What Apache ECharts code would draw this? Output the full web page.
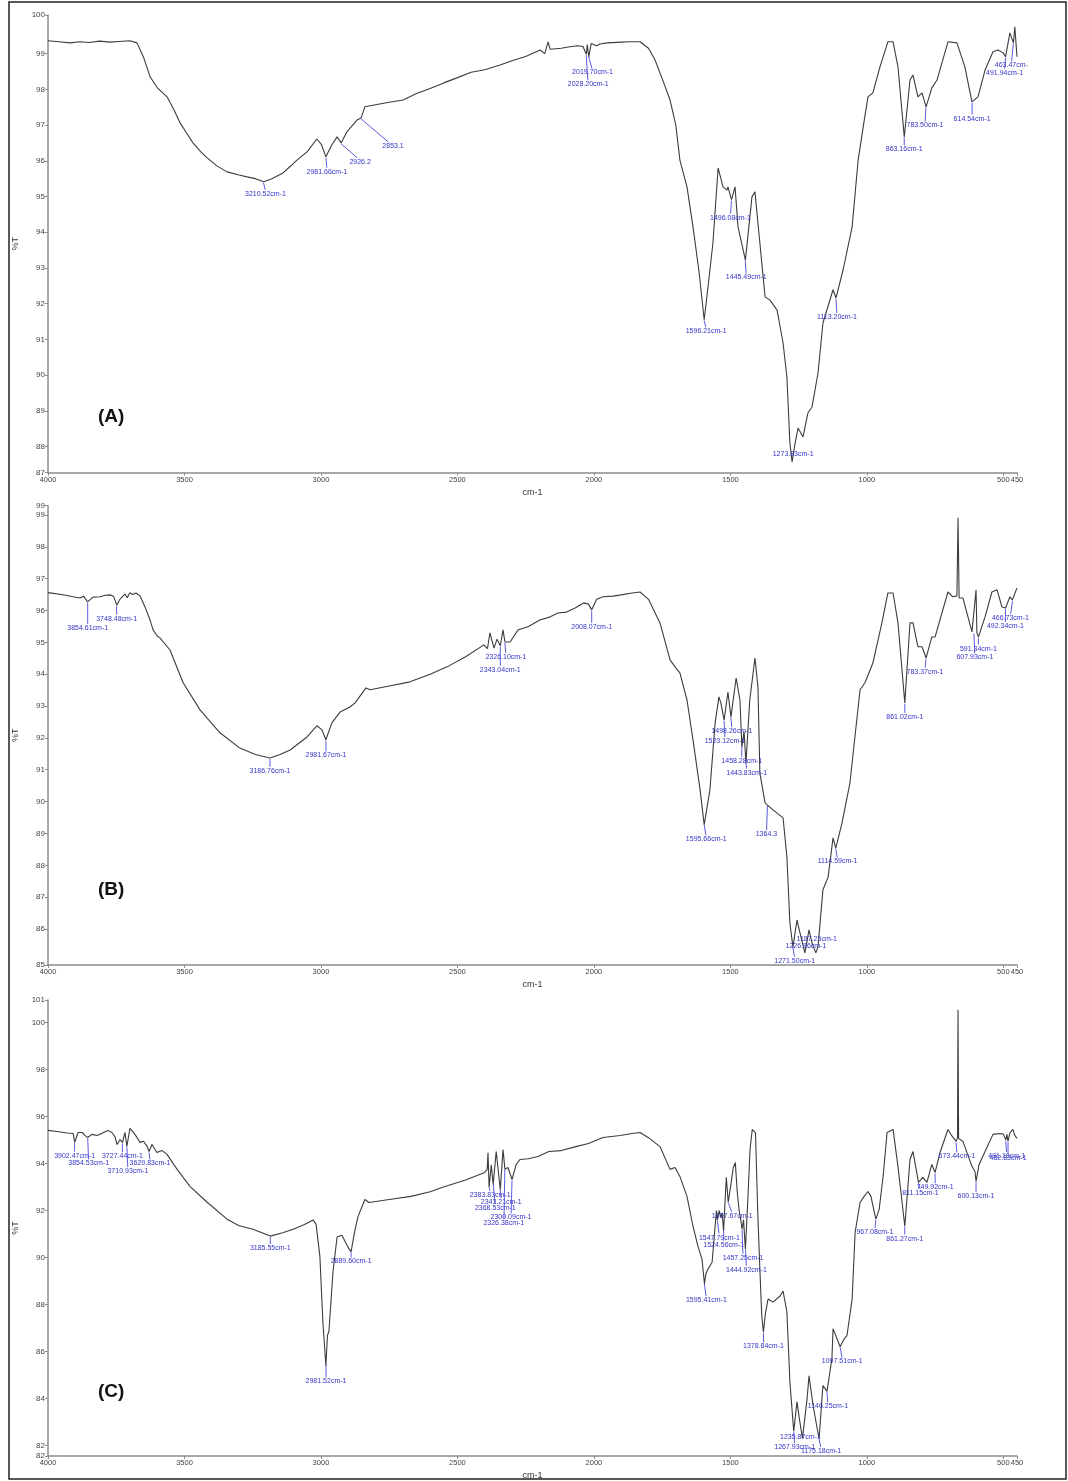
<!DOCTYPE html>
<html><head><meta charset="utf-8">
<script src="https://cdn.jsdelivr.net/npm/echarts@6/dist/echarts.min.js"></script>
<style>html,body{margin:0;padding:0;background:#fff}#c{width:1068px;height:1481px}</style>
</head><body><div id="c"></div>
<script>
// ---------- tick labels ----------
const xTicks = [4000,3500,3000,2500,2000,1500,1000,500,450];
const yTicksA = [87.27,88,89,90,91,92,93,94,95,96,97,98,99,100,100.08];
const yTicksB = [84.87,85,86,87,88,89,90,91,92,93,94,95,96,97,98,99,99.29];
const yTicksC = [81.55,82,84,86,88,90,92,94,96,98,100,100.96];
const panelNames = ['(A)','(B)','(C)'];

// ---------- spectrum A ----------
const wnA = [4000,3960,3920,3883,3850,3810,3773,3740,3700,3674,3650,3626,3600,3564,3540,3516,3490,3469,3440,3417,3380,3344,3300,3271,3240,3210,3180,3139,3110,3088,3051,3015,2998,2982,2960,2941,2926,2905,2868,2853,2839,2800,2750,2699,2650,2600,2550,2502,2450,2400,2344,2300,2250,2197,2180,2168,2160,2154,2120,2088,2060,2040,2028,2024,2019,2010,1990,1978,1950,1900,1870,1831,1800,1776,1750,1721,1700,1685,1659,1637,1615,1596,1580,1564,1545,1527,1512,1509,1496,1483,1472,1445,1421,1410,1392,1373,1355,1329,1307,1293,1282,1274,1263,1252,1234,1216,1201,1179,1161,1124,1113,1087,1054,1032,1014,996,978,952,923,904,886,863,842,831,813,798,783,762,743,703,670,641,615,593,567,538,520,501,492,476,463,458,450];
const tA = [99.36,99.33,99.30,99.33,99.31,99.35,99.32,99.34,99.36,99.30,98.90,98.35,98.05,97.79,97.45,97.06,96.75,96.50,96.25,96.08,95.85,95.69,95.60,95.55,95.50,95.41,95.50,95.66,95.86,96.02,96.25,96.61,96.45,96.11,96.45,96.67,96.50,96.81,97.14,97.20,97.51,97.57,97.64,97.70,97.88,98.02,98.18,98.32,98.48,98.55,98.68,98.80,98.92,99.10,99.00,99.33,99.12,99.10,99.15,99.19,99.22,99.20,98.98,99.25,98.90,99.28,99.22,99.27,99.30,99.32,99.33,99.33,99.15,98.82,98.30,97.70,97.00,96.02,95.27,94.15,92.90,91.55,92.60,93.70,95.80,95.27,95.18,95.27,94.91,95.27,94.15,93.22,94.99,95.13,93.70,92.19,92.10,91.82,90.90,89.95,88.10,87.57,88.10,88.52,88.27,88.94,89.11,90.06,91.46,92.39,92.16,92.95,94.15,96.02,96.92,97.79,97.90,98.63,99.33,99.33,98.63,96.67,98.26,98.40,97.79,97.90,97.51,98.04,98.26,99.33,99.30,98.63,97.65,97.79,98.54,99.05,99.10,99.02,98.91,99.58,99.30,99.75,98.91];

// ---------- spectrum B ----------
const wnB = [4000,3950,3908,3883,3870,3855,3835,3809,3790,3773,3760,3748,3736,3718,3710,3700,3690,3678,3663,3645,3626,3615,3600,3590,3553,3505,3443,3370,3297,3240,3187,3150,3113,3051,3015,2996,2982,2960,2930,2894,2875,2835,2820,2750,2674,2600,2538,2470,2403,2390,2381,2366,2355,2348,2343,2333,2326,2307,2278,2240,2198,2160,2132,2100,2069,2036,2020,2008,1990,1967,1930,1901,1860,1831,1800,1758,1721,1700,1685,1659,1637,1611,1596,1575,1556,1542,1535,1523,1509,1498,1479,1465,1458,1450,1443,1429,1410,1399,1392,1373,1364,1344,1307,1293,1282,1271,1256,1245,1227,1212,1201,1187,1179,1161,1142,1124,1114,1091,1062,1025,1007,978,945,923,904,886,861,842,831,813,798,783,762,750,703,685,670,666,662,648,615,608,600,597,591,567,542,523,505,492,476,467,450];
const tB = [96.56,96.50,96.43,96.39,96.45,96.27,96.42,96.43,96.48,96.49,96.45,96.17,96.36,96.52,96.40,96.56,96.50,96.55,96.46,96.12,95.70,95.39,95.20,95.14,94.76,93.73,92.88,92.16,91.68,91.48,91.37,91.48,91.62,92.03,92.38,92.25,91.94,92.47,92.81,92.97,93.10,93.57,93.51,93.63,93.76,94.00,94.23,94.55,94.92,94.80,95.30,94.82,95.10,95.08,94.89,95.39,95.01,95.01,95.39,95.50,95.70,95.80,95.92,95.95,96.08,96.24,96.20,96.02,96.35,96.43,96.45,96.49,96.55,96.58,96.35,95.61,94.45,94.20,94.04,93.19,91.94,90.37,89.27,90.37,92.47,93.29,93.10,92.56,93.44,92.66,93.88,93.19,91.72,92.20,91.20,93.19,94.51,93.60,90.90,89.96,89.89,89.74,89.49,88.26,86.19,85.44,86.28,85.88,85.25,85.97,85.56,85.25,85.44,87.23,87.63,88.86,88.54,89.33,90.59,93.51,93.73,94.35,95.61,96.55,96.55,95.61,93.10,95.61,95.61,94.86,94.86,94.51,95.17,95.17,96.58,96.43,96.46,98.91,96.39,96.39,95.33,95.30,96.65,95.30,95.17,95.80,96.58,96.65,96.11,96.08,96.43,96.33,96.71];

// ---------- spectrum C ----------
const wnC = [4000,3960,3930,3908,3902,3890,3875,3865,3855,3839,3820,3800,3780,3766,3755,3747,3736,3727,3718,3711,3700,3689,3674,3663,3650,3637,3630,3619,3601,3582,3564,3527,3480,3417,3344,3300,3249,3186,3140,3102,3060,3029,3018,3004,2993,2982,2976,2971,2956,2941,2923,2901,2890,2875,2864,2839,2824,2750,2670,2600,2557,2470,2400,2391,2388,2384,2376,2369,2358,2343,2333,2326,2315,2300,2285,2271,2240,2205,2165,2120,2066,2020,1967,1904,1860,1831,1800,1758,1721,1703,1685,1659,1637,1619,1604,1595,1590,1582,1567,1556,1551,1548,1541,1535,1530,1525,1515,1508,1497,1490,1482,1475,1468,1462,1457,1452,1445,1436,1428,1420,1414,1408,1400,1392,1385,1379,1372,1362,1344,1318,1307,1293,1282,1268,1256,1249,1236,1219,1212,1197,1182,1175,1161,1146,1128,1124,1098,1085,1073,1054,1043,1025,1010,996,985,975,967,955,940,926,904,886,861,842,831,811,795,780,762,750,732,703,690,673,668,666,664,648,615,604,600,589,567,538,512,500,491,487,483,476,465,458,450];
const tC = [95.41,95.35,95.30,95.28,94.90,95.32,95.32,95.20,95.11,95.24,95.19,95.30,95.41,95.32,95.15,94.81,95.02,94.90,95.32,94.73,95.49,95.36,95.11,94.90,94.95,94.73,94.51,94.81,94.47,94.55,94.39,93.75,93.03,92.35,91.63,91.35,91.20,90.91,91.05,91.20,91.40,91.60,91.42,90.06,87.26,85.39,86.70,86.83,89.38,90.87,90.95,90.44,90.23,91.20,91.75,92.47,92.34,92.47,92.60,92.80,92.98,93.30,93.62,93.75,94.46,92.98,93.95,93.11,94.51,92.89,94.59,93.75,93.83,93.32,93.95,94.17,94.20,94.30,94.51,94.55,94.72,94.85,95.11,95.19,95.28,95.32,95.10,94.72,93.75,93.83,93.45,92.60,91.33,90.48,89.93,88.87,89.30,89.51,89.80,91.33,92.00,91.60,92.00,91.70,91.90,91.12,93.41,92.35,93.20,93.80,94.04,92.80,92.00,91.60,91.20,91.60,90.35,92.50,94.60,95.45,95.53,95.30,92.00,89.50,87.50,86.83,87.60,88.23,88.10,88.36,88.57,87.68,84.70,82.60,83.86,83.27,82.30,83.99,84.96,83.69,82.72,82.30,84.55,84.30,85.70,86.97,86.20,86.50,86.67,88.23,91.07,92.34,92.60,92.81,92.60,92.05,91.63,92.05,93.50,95.32,95.45,93.87,91.33,94.17,94.51,93.20,93.41,93.20,93.96,93.62,94.47,95.45,95.20,94.94,95.10,100.54,95.07,94.94,93.88,93.66,93.24,93.96,94.51,95.24,95.28,95.25,95.00,95.24,94.94,95.30,95.45,95.20,95.07];

// ---------- peak annotations ----------
const peaksA = [3210.52,2981.66,2926.2,2853.1,2019.70,2028.20,1596.21,1496.08,1445.49,1273.83,1113.20,863.16,783.50,614.54,491.94,463.47];
const peakTextA = ['3210.52cm-1','2981.66cm-1','2926.2','2853.1','2019.70cm-1','2028.20cm-1','1596.21cm-1','1496.08cm-1','1445.49cm-1','1273.83cm-1','1113.20cm-1','863.16cm-1','783.50cm-1','614.54cm-1','491.94cm-1','463.47cm-'];
const peaksB = [3854.61,3748.48,3186.76,2981.67,2326.10,2343.04,2008.07,1595.66,1498.26,1523.12,1458.28,1443.83,1364.3,1271.50,1226.86,1187.25,1114.59,861.02,783.37,607.93,591.34,492.34,466.73];
const peakTextB = ['3854.61cm-1','3748.48cm-1','3186.76cm-1','2981.67cm-1','2326.10cm-1','2343.04cm-1','2008.07cm-1','1595.66cm-1','1498.26cm-1','1523.12cm-1','1458.28cm-1','1443.83cm-1','1364.3','1271.50cm-1','1226.86cm-1','1187.25cm-1','1114.59cm-1','861.02cm-1','783.37cm-1','607.93cm-1','591.34cm-1','492.34cm-1','466.73cm-1'];
const peaksC = [3902.47,3854.53,3727.44,3710.93,3629.83,3185.55,2981.52,2889.60,2383.83,2343.21,2368.53,2300.09,2326.38,1595.41,1547.79,1524.56,1507.67,1457.25,1444.92,1378.84,1267.93,1235.87,1175.18,1146.25,1097.51,967.08,861.27,811.15,749.92,673.44,600.13,491.19,482.83];
const peakTextC = ['3902.47cm-1','3854.53cm-1','3727.44cm-1','3710.93cm-1','3629.83cm-1','3185.55cm-1','2981.52cm-1','2889.60cm-1','2383.83cm-1','2343.21cm-1','2368.53cm-1','2300.09cm-1','2326.38cm-1','1595.41cm-1','1547.79cm-1','1524.56cm-1','1507.67cm-1','1457.25cm-1','1444.92cm-1','1378.84cm-1','1267.93cm-1','1235.87cm-1','1175.18cm-1','1146.25cm-1','1097.51cm-1','967.08cm-1','861.27cm-1','811.15cm-1','749.92cm-1','673.44cm-1','600.13cm-1','491.19cm-1','482.83cm-1'];

// label placement (pixel offsets from the peak point) - layout only
const offA = [[2,12],[1,15],[19,19],[32,28],[4,17],[2,30],[2,12],[-1,18],[1,18],[1,-8],[1,19],[0,13],[-1,19],[0,17],[-1,16],[-2,23]];
const offB = [[0,26],[0,14],[0,13],[0,16],[1,15],[0,24],[0,17],[2,15],[1,15],[1,21],[0,16],[1,13],[-1,29],[2,15],[1,-7],[1,-14],[2,14],[0,14],[-1,14],[1,25],[0,12],[0,18],[-2,18]];
const offC = [[0,14],[1,26],[0,14],[1,25],[1,12],[0,12],[0,18],[0,10],[1,8],[1,13],[2,25],[-1,38],[-1,55],[2,17],[2,18],[0,16],[4,14],[1,29],[1,21],[0,15],[1,16],[-2,-1],[2,13],[1,15],[2,15],[-1,13],[0,13],[2,11],[0,15],[1,15],[0,15],[1,16],[0,17]];

function interp(ws, vs, w) {
  for (let i = 0; i < ws.length - 1; i++) {
    const a = ws[i], b = ws[i + 1];
    if (w <= a && w >= b) { const t = (a - w) / (a - b); return vs[i] + t * (vs[i + 1] - vs[i]); }
  }
  return vs[vs.length - 1];
}

const panels = [
  {wn: wnA, t: tA, min: 87.27, max: 100.08, ticks: yTicksA, top: 15, height: 457.7, peaks: peaksA, texts: peakTextA, off: offA, letterY: 418},
  {wn: wnB, t: tB, min: 84.87, max: 99.29, ticks: yTicksB, top: 505.7, height: 459.3, peaks: peaksB, texts: peakTextB, off: offB, letterY: 891},
  {wn: wnC, t: tC, min: 81.55, max: 100.96, ticks: yTicksC, top: 1000, height: 457.7, peaks: peaksC, texts: peakTextC, off: offC, letterY: 1393}
];

const FONT = '"Liberation Sans", Arial, sans-serif';
const grid = [], xAxis = [], yAxis = [], series = [], graphic = [];
panels.forEach((p, i) => {
  grid.push({left: 48, width: 969, top: p.top, height: p.height, containLabel: false});
  xAxis.push({
    gridIndex: i, type: 'value', inverse: true, min: 450, max: 4000,
    axisLine: {show: true, lineStyle: {color: '#8c8c8c', width: 1.5}},
    axisTick: {show: true, customValues: xTicks, length: 3, lineStyle: {color: '#8c8c8c'}},
    axisLabel: {customValues: xTicks, fontSize: 7.5, color: '#444', margin: 3, fontFamily: FONT,
      hideOverlap: false, showMinLabel: true, showMaxLabel: true,
      formatter: v => String(v)},
    splitLine: {show: false},
    name: 'cm-1', nameLocation: 'middle', nameGap: 15,
    nameTextStyle: {fontSize: 9, color: '#333', fontFamily: FONT}
  });
  yAxis.push({
    gridIndex: i, type: 'value', min: p.min, max: p.max,
    axisLine: {show: true, lineStyle: {color: '#8c8c8c', width: 1.5}},
    axisTick: {show: true, customValues: p.ticks, length: 3, lineStyle: {color: '#8c8c8c'}},
    axisLabel: {customValues: p.ticks, formatter: v => String(Math.round(v)), fontSize: 8, color: '#444', margin: 3, fontFamily: FONT,
      hideOverlap: false, showMinLabel: true, showMaxLabel: true},
    splitLine: {show: false},
    name: '%T', nameLocation: 'middle', nameGap: 28, nameRotate: 90,
    nameTextStyle: {fontSize: 9, color: '#333', fontFamily: FONT}
  });
  series.push({
    type: 'line', xAxisIndex: i, yAxisIndex: i, showSymbol: false, symbol: 'none',
    data: p.wn.map((w, k) => [w, p.t[k]]),
    lineStyle: {color: '#3c3c3c', width: 1.1}, animation: false, z: 3
  });
  series.push({
    type: 'custom', xAxisIndex: i, yAxisIndex: i, clip: false, animation: false, z: 4,
    data: p.peaks.map((w, k) => [w, interp(p.wn, p.t, w), k]),
    renderItem: (params, api) => {
      const k = api.value(2);
      const pt = api.coord([api.value(0), api.value(1)]);
      const o = p.off[k];
      const lx = pt[0] + o[0], ly = pt[1] + o[1];
      const children = [];
      if (o[1] > 6) {
        children.push({type: 'line', shape: {x1: pt[0], y1: pt[1] + 1, x2: pt[0] + o[0] * 0.85, y2: ly - 4},
          style: {stroke: '#5b5be0', lineWidth: 1}});
      }
      children.push({type: 'text', style: {x: lx, y: ly, text: p.texts[k], fill: '#3434c8',
        font: '7px ' + FONT, align: 'center', verticalAlign: 'middle'}});
      return {type: 'group', children};
    }
  });
  graphic.push({type: 'text', left: 98, top: p.letterY - 11,
    style: {text: panelNames[i], font: 'bold 19px ' + FONT, fill: '#111'}});
});
graphic.push({type: 'rect', shape: {x: 9, y: 2, width: 1057, height: 1477},
  style: {fill: 'none', stroke: '#222', lineWidth: 1.5}, z: 10});

const chart = echarts.init(document.getElementById('c'));
chart.setOption({backgroundColor: '#fff', animation: false, grid, xAxis, yAxis, series, graphic});
</script>
</body></html>
